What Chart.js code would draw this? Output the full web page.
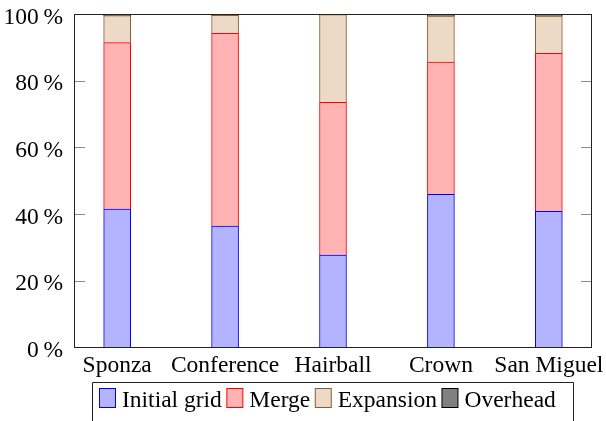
<!DOCTYPE html>
<html>
<head>
<meta charset="utf-8">
<script src="https://cdn.jsdelivr.net/npm/chart.js@4/dist/chart.umd.min.js"></script>
<style>
  html, body { margin: 0; padding: 0; background: #fff; }
  #wrap { width: 606px; height: 421px; position: relative; }
</style>
</head>
<body>
<div id="wrap"><canvas id="c" width="606" height="421"></canvas></div>
<script>
// Scenes and the share of build time spent in each phase (percent)
const scenes = ['Sponza', 'Conference', 'Hairball', 'Crown', 'San Miguel'];
const initialGrid = [41.5, 36.4, 27.7, 45.9, 40.8];
const merge       = [49.9, 57.8, 45.8, 39.7, 47.4];
const expansion   = [8.1, 5.4, 26.3, 13.8, 11.2];
const overhead    = [0.5, 0.4, 0.2, 0.6, 0.6];
const yTicks = [0, 20, 40, 60, 80, 100];

const FONT = '"Liberation Serif", "Times New Roman", serif';
const FONT_SIZE = 23.5;

const series = [
  { label: 'Initial grid', values: initialGrid, fill: '#b3b3ff', stroke: '#0000ff' },
  { label: 'Merge',        values: merge,       fill: '#ffb3b3', stroke: '#ff0000' },
  { label: 'Expansion',    values: expansion,   fill: '#ecd9c6', stroke: '#8a5c2e' },
  { label: 'Overhead',     values: overhead,    fill: '#808080', stroke: '#000000' }
];

const datasets = series.map(s => ({
  label: s.label,
  data: s.values.map((v, i) => ({ x: i, y: v })),
  backgroundColor: s.fill,
  borderColor: s.stroke,
  borderWidth: 1,
  borderSkipped: 'bottom',
  barThickness: 27
}));

// Frame, inward tick marks, axis labels and the boxed legend
const framePlugin = {
  id: 'frame',
  afterDatasetsDraw(chart) {
    const { ctx, chartArea: a, scales } = chart;
    ctx.save();
    ctx.strokeStyle = '#8c8c8c';
    ctx.lineWidth = 1;
    yTicks.slice(1, -1).forEach(t => {
      const y = Math.round(scales.y.getPixelForValue(t)) + 0.5;
      ctx.beginPath();
      ctx.moveTo(a.left, y); ctx.lineTo(a.left + 11, y);
      ctx.moveTo(a.right, y); ctx.lineTo(a.right - 11, y);
      ctx.stroke();
    });
    ctx.strokeStyle = '#222';
    ctx.strokeRect(Math.round(a.left) + 0.5, Math.round(a.top) + 0.5,
                   Math.round(a.right - a.left) - 1, Math.round(a.bottom - a.top) - 1);

    ctx.font = FONT_SIZE + 'px ' + FONT;
    ctx.fillStyle = '#000';
    ctx.textBaseline = 'alphabetic';

    // y tick labels
    ctx.textAlign = 'right';
    yTicks.forEach(t => {
      ctx.fillText(t + '\u2009%', a.left - 11, scales.y.getPixelForValue(t) + 9.5);
    });

    // category labels
    ctx.textAlign = 'center';
    scenes.forEach((name, i) => {
      ctx.fillText(name, scales.x.getPixelForValue(i), a.bottom + 24.5);
    });

    // legend
    const boxL = 92, boxR = 573, boxT = 382;
    ctx.strokeStyle = '#222';
    ctx.beginPath();
    ctx.moveTo(boxL + 0.5, 430); ctx.lineTo(boxL + 0.5, boxT + 0.5);
    ctx.lineTo(boxR + 0.5, boxT + 0.5); ctx.lineTo(boxR + 0.5, 430);
    ctx.stroke();
    ctx.textAlign = 'left';
    let x = 99.5;
    series.forEach(s => {
      ctx.fillStyle = s.fill;
      ctx.fillRect(x, 388.5, 16, 19);
      ctx.strokeStyle = s.stroke;
      ctx.strokeRect(x, 388.5, 16, 19);
      x += 16 + 6.5;
      ctx.fillStyle = '#000';
      ctx.fillText(s.label, x, 407);
      x += ctx.measureText(s.label).width + 5;
    });
    ctx.restore();
  }
};

new Chart(document.getElementById('c'), {
  type: 'bar',
  data: { datasets },
  options: {
    responsive: false,
    animation: false,
    events: [],
    layout: { padding: { top: 14, right: 14, left: 0, bottom: 33.5 } },
    plugins: { legend: { display: false }, tooltip: { enabled: false } },
    scales: {
      x: {
        type: 'linear',
        stacked: true,
        offset: false,
        min: -0.4,
        max: 4.4,
        afterBuildTicks: s => { s.ticks = scenes.map((_, i) => ({ value: i })); },
        afterFit: s => { s.height = 40; },
        grid: { display: false, drawTicks: false },
        border: { display: false },
        ticks: { display: false }
      },
      y: {
        stacked: true,
        min: 0,
        max: 100,
        afterBuildTicks: s => { s.ticks = yTicks.map(v => ({ value: v })); },
        afterFit: s => { s.width = 74; },
        grid: { display: false, drawTicks: false },
        border: { display: false },
        ticks: { display: false }
      }
    }
  },
  plugins: [framePlugin]
});
</script>
</body>
</html>
